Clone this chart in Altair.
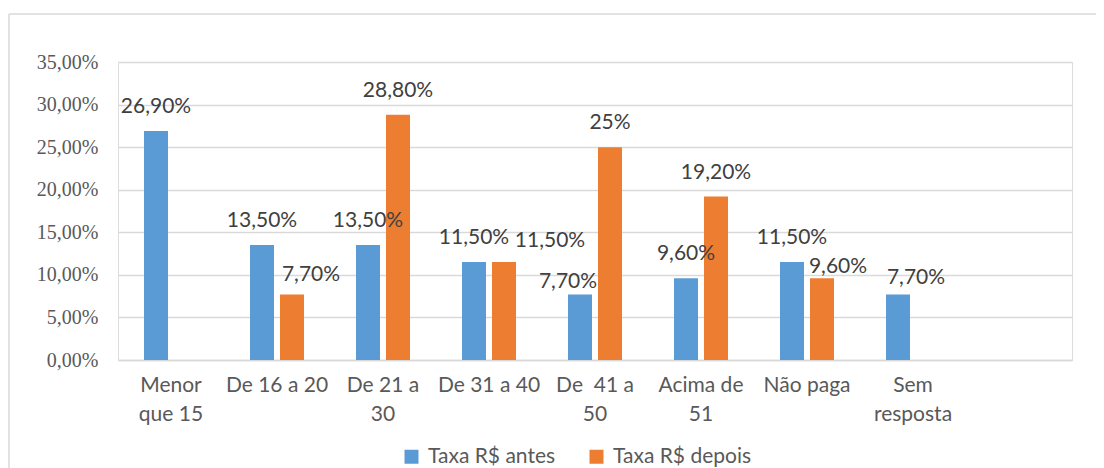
import altair as alt
import pandas as pd

# ---- data ----
categories = ["Menor|que 15", "De 16 a 20", "De 21 a|30", "De 31 a 40",
              "De \u00a041 a|50", "Acima de|51", "Não paga", "Sem|resposta", " "]
series = ["Taxa R$ antes", "Taxa R$ depois"]
antes = [26.9, 13.5, 13.5, 11.5, 7.7, 9.6, 11.5, 7.7]
depois = [None, 7.7, 28.8, 11.5, 25.0, 19.2, 9.6, None]
antes_labels = ["26,90%", "13,50%", "13,50%", "11,50%", "7,70%", "9,60%", "11,50%", "7,70%"]
depois_labels = [None, "7,70%", "28,80%", "11,50%", "25%", "19,20%", "9,60%", None]

# label nudges (dx, dy) as placed in the original (style, not data)
nudges = {
    (1, "Taxa R$ depois"): (19, -13),
    (3, "Taxa R$ depois"): (46, -15),
    (4, "Taxa R$ antes"): (-12, -6),
    (6, "Taxa R$ depois"): (16, -5),
    (7, "Taxa R$ antes"): (18, -10),
}
DEFAULT_NUDGE = (0, -18)

rows = []
for i, c in enumerate(categories[:8]):
    for s, vals, labs in ((series[0], antes, antes_labels), (series[1], depois, depois_labels)):
        if vals[i] is not None:
            nd = nudges.get((i, s), DEFAULT_NUDGE)
            rows.append({"cat": c, "series": s, "value": vals[i], "label": labs[i],
                         "grp": f"{nd[0]}_{nd[1]}"})
df = pd.DataFrame(rows)

BLUE = "#5B9BD5"
ORANGE = "#ED7D31"
GRID = "#D9D9D9"
SANS = "Lato"

x_enc = alt.X("cat:N", sort=categories,
              scale=alt.Scale(domain=categories, paddingInner=0, paddingOuter=0),
              axis=alt.Axis(title=None, labelAngle=0, labelExpr="split(datum.label, '|')",
                            labelFont=SANS, labelFontSize=21, labelColor="#595959",
                            labelPadding=14, labelLineHeight=29, ticks=False,
                            domainColor=GRID, domainWidth=1.5, grid=False))
xo_enc = alt.XOffset("series:N", sort=series,
                     scale=alt.Scale(domain=series, paddingInner=0.2, paddingOuter=0.8667))
y_enc = alt.Y("value:Q",
              scale=alt.Scale(domain=[0, 35], nice=False),
              axis=alt.Axis(title=None, values=[0, 5, 10, 15, 20, 25, 30, 35],
                            labelExpr="replace(format(datum.value, '.2f'), '.', ',') + '%'",
                            labelFont="Liberation Serif", labelFontSize=20,
                            labelColor="#595959", labelPadding=20, ticks=False,
                            domain=False, grid=True, gridColor=GRID, gridWidth=1.5))

bars = alt.Chart(df).mark_bar(size=24).encode(
    x=x_enc, xOffset=xo_enc, y=y_enc,
    color=alt.Color("series:N", sort=series,
                    scale=alt.Scale(domain=series, range=[BLUE, ORANGE]),
                    legend=alt.Legend(title=None, orient="none", direction="horizontal",
                                      legendX=283, legendY=384, symbolType="square",
                                      symbolSize=196, symbolStrokeWidth=0,
                                      labelFont=SANS, labelFontSize=21,
                                      labelColor="#595959", columnPadding=30,
                                      labelOffset=6)),
)

layers = [bars]
for g in sorted(df["grp"].unique()):
    dx, dy = (int(v) for v in g.split("_"))
    layers.append(
        alt.Chart(df).transform_filter(alt.datum.grp == g)
        .mark_text(baseline="alphabetic", align="center", dx=dx, dy=dy,
                   font=SANS, fontSize=21, color="#404040")
        .encode(x=alt.X("cat:N", sort=categories), xOffset=alt.XOffset("series:N", sort=series),
                y="value:Q", text="label:N")
    )

frame_df = pd.DataFrame({"k": [0]})
left_line = alt.Chart(frame_df).mark_rule(color=GRID, strokeWidth=1.5).encode(
    x=alt.value(-109), y=alt.value(-48), y2=alt.value(420))
top_line = alt.Chart(frame_df).mark_rule(color=GRID, strokeWidth=1.5).encode(
    x=alt.value(-109), x2=alt.value(1000), y=alt.value(-48))
layers += [left_line, top_line]

chart = alt.layer(*layers).properties(
    width=954, height=298,
    autosize=alt.AutoSizeParams(type="none"),
    padding={"left": 110, "top": 54, "right": 24, "bottom": 110},
).configure_view(stroke=None).configure(background="white")

chart.save("out.html", embed_options={"renderer": "svg", "actions": False})
